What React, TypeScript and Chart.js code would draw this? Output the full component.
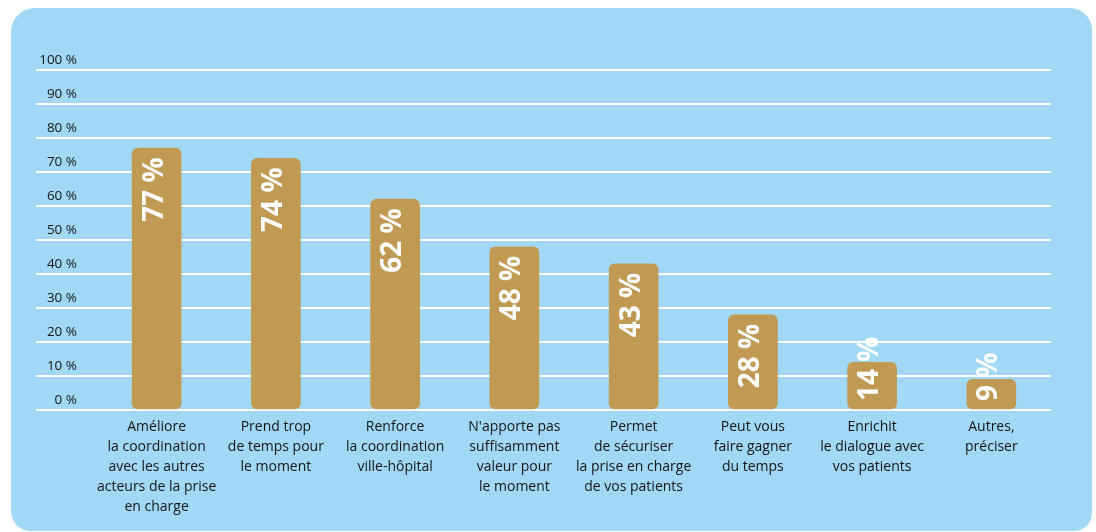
import React, { useEffect, useRef } from "react";
import { Chart, registerables } from "chart.js";

Chart.register(...registerables);

const categories: string[][] = [
  ["Améliore", "la coordination", "avec les autres", "acteurs de la prise", "en charge"],
  ["Prend trop", "de temps pour", "le moment"],
  ["Renforce", "la coordination", "ville-hôpital"],
  ["N'apporte pas", "suffisamment", "valeur pour", "le moment"],
  ["Permet", "de sécuriser", "la prise en charge", "de vos patients"],
  ["Peut vous", "faire gagner", "du temps"],
  ["Enrichit", "le dialogue avec", "vos patients"],
  ["Autres,", "préciser"],
];
const values: number[] = [77, 74, 62, 48, 43, 28, 14, 9];
const yMin = 0;
const yMax = 100;
const yStep = 10;

const BG = "#A1D8F5";
const BAR = "#C09A53";
const TEXT = "#151515";
const FONT = "'Open Sans', 'DejaVu Sans', sans-serif";

const barLabelPlugin = {
  id: "barLabels",
  afterDatasetsDraw(chart: any) {
    const ctx = chart.ctx;
    const meta = chart.getDatasetMeta(0);
    ctx.save();
    ctx.font = `bold 28px ${FONT}`;
    ctx.fillStyle = "#ffffff";
    meta.data.forEach((bar: any, i: number) => {
      const label = `${values[i]} %`;
      const w = ctx.measureText(label).width;
      const top = bar.y;
      const base = bar.base;
      let start = top + 9 + w; // bottom end of the rotated text
      if (start > base - 7) start = base - 8;
      ctx.save();
      ctx.translate(bar.x, start);
      ctx.rotate(-Math.PI / 2);
      ctx.textAlign = "left";
      ctx.textBaseline = "alphabetic";
      ctx.fillText(label, 0, 6);
      ctx.restore();
    });
    ctx.restore();
  },
};

export default function App() {
  const ref = useRef<HTMLCanvasElement | null>(null);

  useEffect(() => {
    if (!ref.current) return;
    const chart = new Chart(ref.current, {
      type: "bar",
      data: {
        labels: categories,
        datasets: [
          {
            data: values,
            backgroundColor: BAR,
            borderRadius: 6,
            borderSkipped: false,
            barThickness: 49,
          },
        ],
      },
      options: {
        responsive: false,
        animation: false,
        layout: { padding: { left: 36, right: 45, top: 70, bottom: 0 } },
        plugins: {
          legend: { display: false },
          tooltip: { enabled: false },
        },
        scales: {
          x: {
            grid: { display: false, drawTicks: false },
            border: { display: false },
            ticks: {
              autoSkip: false,
              maxRotation: 0,
              padding: 7,
              color: TEXT,
              font: { family: FONT, size: 14, lineHeight: 20 / 14 },
            },
            afterFit: (s: any) => {
              s.height = 122;
            },
          },
          y: {
            min: yMin,
            max: yMax,
            border: { display: false },
            grid: {
              color: "#ffffff",
              lineWidth: 2,
              drawTicks: true,
              tickLength: 61,
              tickColor: "#ffffff",
            },
            ticks: {
              stepSize: yStep,
              padding: -41,
              labelOffset: -10,
              color: TEXT,
              font: { family: FONT, size: 13.5 },
              callback: (v: any) => `${v} %`,
            },
            afterFit: (s: any) => {
              s.width = 61;
            },
          },
        },
      },
      plugins: [barLabelPlugin],
    });
    return () => chart.destroy();
  }, []);

  return (
    <div style={{ position: "absolute", left: 0, top: 0, width: 1096, height: 532, background: "#ffffff", overflow: "hidden" }}>
      <div
        style={{
          position: "absolute",
          left: 11,
          top: 8,
          width: 1081,
          height: 523,
          background: BG,
          borderRadius: "24px 22px 18px 20px",
        }}
      />
      <canvas ref={ref} width={1096} height={532} style={{ position: "absolute", left: 0, top: 0, width: 1096, height: 532 }} />
    </div>
  );
}
